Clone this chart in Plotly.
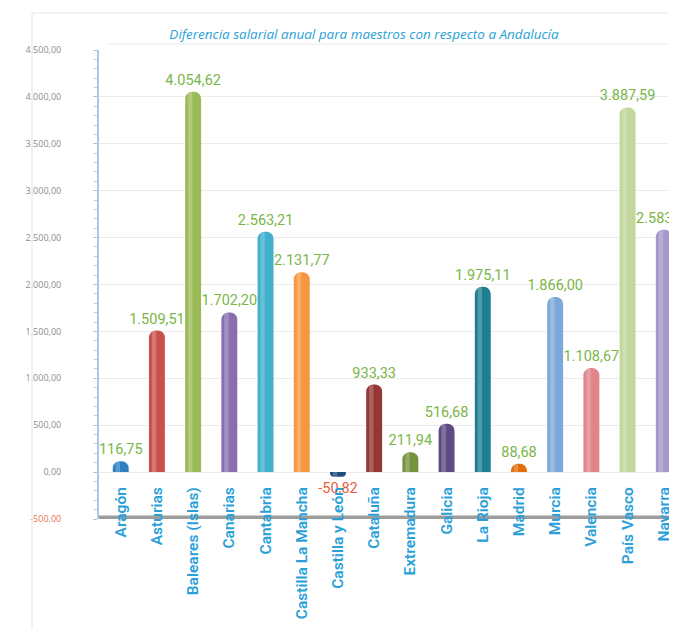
import plotly.graph_objects as go

categories = ["Aragón", "Asturias", "Baleares (Islas)", "Canarias", "Cantabria",
              "Castilla La Mancha", "Castilla y León", "Cataluña", "Extremadura",
              "Galicia", "La Rioja", "Madrid", "Murcia", "Valencia", "País Vasco", "Navarra"]
values = [116.75, 1509.51, 4054.62, 1702.20, 2563.21, 2131.77, -50.82, 933.33,
          211.94, 516.68, 1975.11, 88.68, 1866.00, 1108.67, 3887.59, 2583.92]
bar_colors = ["#2f7fc1", "#c9504b", "#9bbb59", "#8a6fb0", "#40b0cc", "#f7963f",
              "#1d4e7c", "#953735", "#76923c", "#5f4a85", "#1f7f92", "#e46c0a",
              "#7ea8da", "#e0858a", "#c3d69b", "#a798cc"]
y_ticks = [-500, 0, 500, 1000, 1500, 2000, 2500, 3000, 3500, 4000, 4500]
title_text = "Diferencia salarial anual para maestros con respecto a Andalucía"


def es(v):
    s = f"{v:,.2f}"
    return s.replace(",", "X").replace(".", ",").replace("X", ".")


labels = [es(v) for v in values]
label_colors = ["#e8603c" if v < 0 else "#7ab648" for v in values]
tick_text = [f"<span style='color:#e8704f'>{es(t)}</span>" if t < 0 else es(t) for t in y_ticks]

fig = go.Figure()
fig.add_trace(go.Bar(
    x=categories, y=values, width=0.44,
    marker=dict(color=bar_colors, cornerradius=7, line=dict(width=0)),
    text=labels, textposition="outside", cliponaxis=False, constraintext="none",
    textfont=dict(color=label_colors, size=14.5, family="Roboto"),
    hoverinfo="skip",
))
# cylinder highlight
fig.add_trace(go.Bar(
    x=categories, y=values, width=0.12, offset=-0.14,
    marker=dict(color="rgba(255,255,255,0.22)", cornerradius=3, line=dict(width=0)),
    hoverinfo="skip",
))

OX, OY = 6, 7  # page offset of the figure
W, H = 677 - OX, 629 - OY
L, R, T = 97 - OX, 0, 49 - OY
B = H - (518 - OY)
ph = H - T - B
pw = W - L - R


def px_x(p):
    return (p - OX - L) / pw


def px_y(p):
    return (H - B - (p - OY)) / ph


fig.update_layout(
    width=W, height=H,
    margin=dict(l=L, r=R, t=T, b=B),
    paper_bgcolor="white", plot_bgcolor="white",
    showlegend=False, barmode="overlay",
    font=dict(family="Roboto"),
    title=dict(text=title_text, x=(362 - OX) / W, xref="container", xanchor="center",
               y=1 - (33 - OY) / H, yref="container", yanchor="middle",
               font=dict(size=13.5, color="#2a9fd8", family="Open Sans", style="italic")),
    xaxis=dict(
        range=[-0.60, 15.42], anchor="free", position=0.1,
        showline=False, ticks="", showgrid=False, zeroline=False,
        tickangle=-90, ticklabelstandoff=11,
        tickfont=dict(size=15.5, color="#2a9fd8", family="Roboto", weight=600),
    ),
    yaxis=dict(
        range=[-500, 4500], tickvals=y_ticks, ticktext=tick_text,
        showline=True, linecolor="#a9c9e8", linewidth=2,
        ticks="outside", ticklen=4, tickcolor="#a9c9e8",
        minor=dict(dtick=100, ticks="outside", ticklen=3, tickcolor="#a9c9e8", showgrid=False),
        ticklabelstandoff=30,
        tickfont=dict(size=9, color="#8c8c8c", family="Open Sans"),
        showgrid=True, gridcolor="#ececec", gridwidth=1, zeroline=False,
    ),
    shapes=[
        dict(type="line", xref="paper", yref="y", x0=0, x1=1, y0=-500, y1=-500,
             line=dict(color="rgba(140,140,140,0.85)", width=7), layer="below"),
        dict(type="line", xref="paper", yref="paper", x0=px_x(30), x1=px_x(30),
             y0=px_y(12), y1=px_y(629), line=dict(color="#e6e6e6", width=1)),
        dict(type="line", xref="paper", yref="paper", x0=px_x(30), x1=px_x(677),
             y0=px_y(12), y1=px_y(12), line=dict(color="#e6e6e6", width=1)),
        dict(type="line", xref="paper", yref="paper", x0=px_x(105), x1=px_x(677),
             y0=px_y(43), y1=px_y(43), line=dict(color="#ececec", width=1)),
    ],
)

fig.write_html("out.html")
